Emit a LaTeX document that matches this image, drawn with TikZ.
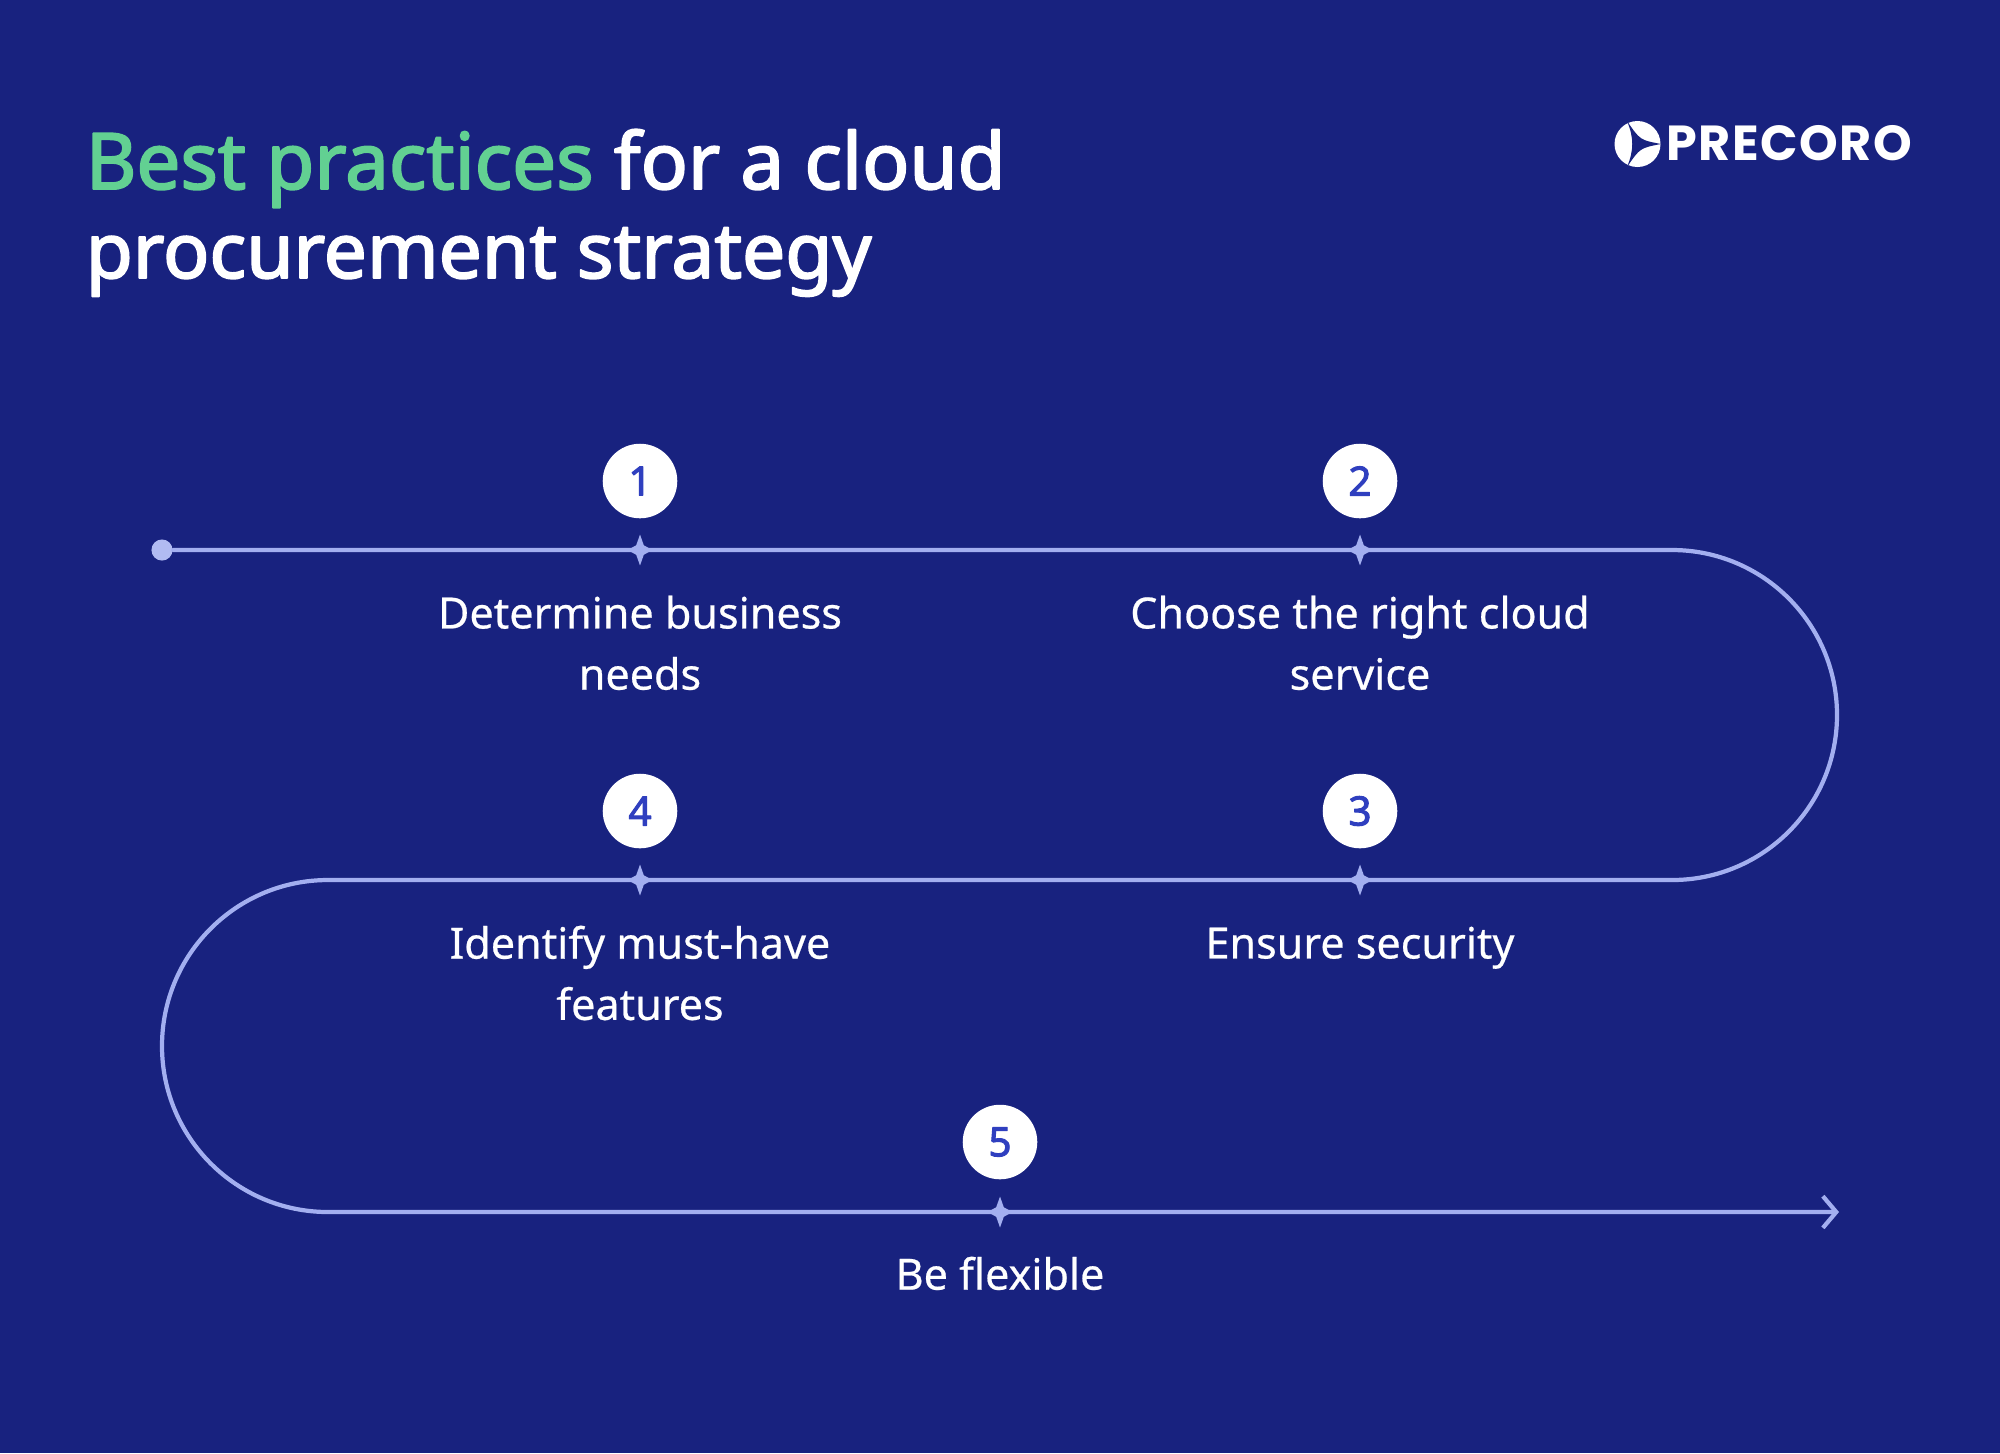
\documentclass[tikz,border=0pt]{standalone}
\usepackage{fontspec}
\usetikzlibrary{arrows.meta,shapes.geometric}
\setmainfont[FakeBold=0.5]{Noto Sans}
\newfontfamily\headfont[FakeBold=2.4]{Noto Sans}
\newfontfamily\logofont[LetterSpace=3]{Poppins}
\definecolor{navybg}{HTML}{18227F}
\definecolor{routeblue}{HTML}{A3AFF0}
\definecolor{numblue}{HTML}{2F3FBF}
\definecolor{titlegreen}{HTML}{62D092}
\tikzset{
	route/.style={routeblue,line width=1.2pt,line join=round,line cap=round},
	stepstar/.style={star,star points=4,star point ratio=2.3,fill=routeblue,inner sep=0pt,minimum size=8.8pt,xscale=.8,transform shape},
	stepnum/.style={circle,fill=white,text=numblue,inner sep=0pt,minimum size=21.2pt,font=\fontsize{11.5}{11.5}\selectfont\headfont},
	steptext/.style={anchor=north,align=center,text=white,inner sep=0pt,font=\fontsize{12.25}{17.4}\selectfont},
	headline/.style={anchor=base west,text=white,inner sep=0pt,font=\fontsize{22.2}{22.2}\selectfont\headfont}
}
\begin{document}
\begin{tikzpicture}[x=0.01cm,y=-0.01cm,line join=round,line cap=round]
	\fill[navybg] (0,0) rectangle (2000,1453);
	% title
	\node[headline] (title1) at (85,189) {\textcolor{titlegreen}{Best practices} for a cloud};
	\node[headline,font=\fontsize{21.8}{21.8}\selectfont\headfont] (title2) at (85,278) {procurement strategy};
	% logo
	\fill[white] (1637.5,144) circle (23);
	\fill[navybg] (1627,121) .. controls (1640,140) .. (1661,144) .. controls (1640,148) .. (1627,167) .. controls (1634,150) and (1634,138) .. (1627,121) -- cycle;
	\node[anchor=base west,text=white,inner sep=0pt,font=\fontsize{14}{14}\selectfont\logofont\bfseries] (logo) at (1666,160.5) {PRECORO};
	% route
	\node[circle,fill=routeblue!85!white,inner sep=0pt,minimum size=6pt] (start) at (162,550) {};
	\node[stepstar] (s1) at (640,550) {};
	\node[stepstar] (s2) at (1360,550) {};
	\node[stepstar] (s3) at (1360,880) {};
	\node[stepstar] (s4) at (640,880) {};
	\node[stepstar] (s5) at (1000,1212) {};
	\coordinate (bendA) at (1672,550);
	\coordinate (bendB) at (328,880);
	\coordinate (tip) at (1839,1212);
	\draw[route,-{Straight Barb[length=3.8pt,width=9pt,line width=1.2pt]}] (start) -- (s1.center) -- (s2.center) -- (bendA) arc[start angle=-90,end angle=90,radius=165] -- (s3.center) -- (s4.center) -- (bendB) arc[start angle=-90,end angle=-270,radius=166] -- (s5.center) -- (tip);
	% numbers
	\node[stepnum] (n1) at (640,481) {1};
	\node[stepnum] (n2) at (1360,481) {2};
	\node[stepnum] (n3) at (1360,811) {3};
	\node[stepnum] (n4) at (640,811) {4};
	\node[stepnum] (n5) at (1000,1142) {5};
	% labels
	\node[steptext] (t1) at (640,595) {Determine business\\needs};
	\node[steptext] (t2) at (1360,595) {Choose the right cloud\\service};
	\node[steptext] (t3) at (1360,926) {Ensure security};
	\node[steptext] (t4) at (640,925) {Identify must-have\\features};
	\node[steptext] (t5) at (1000,1256) {Be flexible};
\end{tikzpicture}
\end{document}
